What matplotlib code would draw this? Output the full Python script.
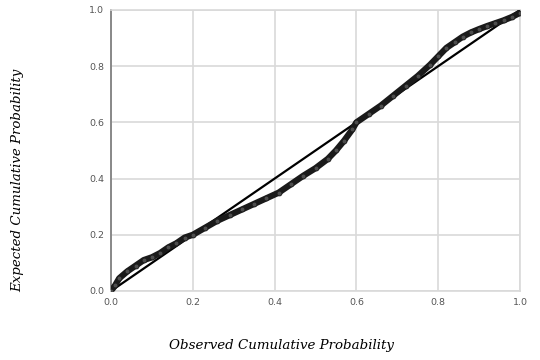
"""P-P plot: observed vs expected cumulative probability."""

import matplotlib

matplotlib.use("Agg")
import matplotlib.pyplot as plt

# valores
observado = [0.0, 0.01, 0.02, 0.04, 0.06, 0.08, 0.10, 0.12, 0.14, 0.16,
             0.18, 0.20, 0.23, 0.26, 0.29, 0.32, 0.35, 0.38, 0.41, 0.44,
             0.47, 0.50, 0.53, 0.55, 0.57, 0.59, 0.60, 0.63, 0.66, 0.69,
             0.72, 0.75, 0.78, 0.80, 0.82, 0.84, 0.86, 0.88, 0.90, 0.92,
             0.94, 0.96, 0.98, 1.0]
esperado = [0.0, 0.02, 0.045, 0.07, 0.09, 0.11, 0.12, 0.135, 0.155, 0.17,
            0.19, 0.20, 0.225, 0.25, 0.27, 0.29, 0.31, 0.33, 0.35, 0.38,
            0.41, 0.437, 0.47, 0.50, 0.535, 0.575, 0.60, 0.63, 0.66, 0.695,
            0.73, 0.765, 0.805, 0.835, 0.865, 0.885, 0.905, 0.92, 0.932,
            0.943, 0.953, 0.963, 0.975, 0.99]
referencia = [0.0, 1.0]
ticks = [0.0, 0.2, 0.4, 0.6, 0.8, 1.0]

figura = plt.figure(figsize=(5.4, 3.6), dpi=100)
eixo = figura.add_axes([0.2056, 0.1917, 0.7574, 0.7806])

eixo.plot(referencia, referencia, color="black", linewidth=1.6, zorder=3)
eixo.plot(observado, esperado, color="#1a1a1a", linewidth=4.5,
          solid_capstyle="round", solid_joinstyle="round", zorder=4)
eixo.plot(observado, esperado, linestyle="none", marker="o", markersize=3.5,
          markerfacecolor="#4d4d4d", markeredgecolor="#1a1a1a",
          markeredgewidth=0.6, zorder=5)

eixo.set_xlim(0, 1)
eixo.set_ylim(0, 1)
eixo.set_xticks(ticks, [f"{t:.1f}" for t in ticks])
eixo.set_yticks(ticks, [f"{t:.1f}" for t in ticks])
eixo.tick_params(length=0, labelsize=6.8, labelcolor="#555555", pad=5)
eixo.grid(color="#d9d9d9", linewidth=1.2)
eixo.set_axisbelow(True)

for lado in ["top", "right", "bottom"]:
    eixo.spines[lado].set_color("#d9d9d9")
    eixo.spines[lado].set_linewidth(1.2)
eixo.spines["left"].set_color("#888888")
eixo.spines["left"].set_linewidth(1.4)

fonte = {"family": "DejaVu Serif", "style": "italic", "size": 9.6}
figura.text(0.522, 0.04, "Observed Cumulative Probability", ha="center",
            va="center", fontdict=fonte)
figura.text(0.032, 0.50, "Expected Cumulative Probability", ha="center",
            va="center", rotation=90, fontdict=fonte)

figura.savefig("out.png", dpi=100)
plt.close(figura)
